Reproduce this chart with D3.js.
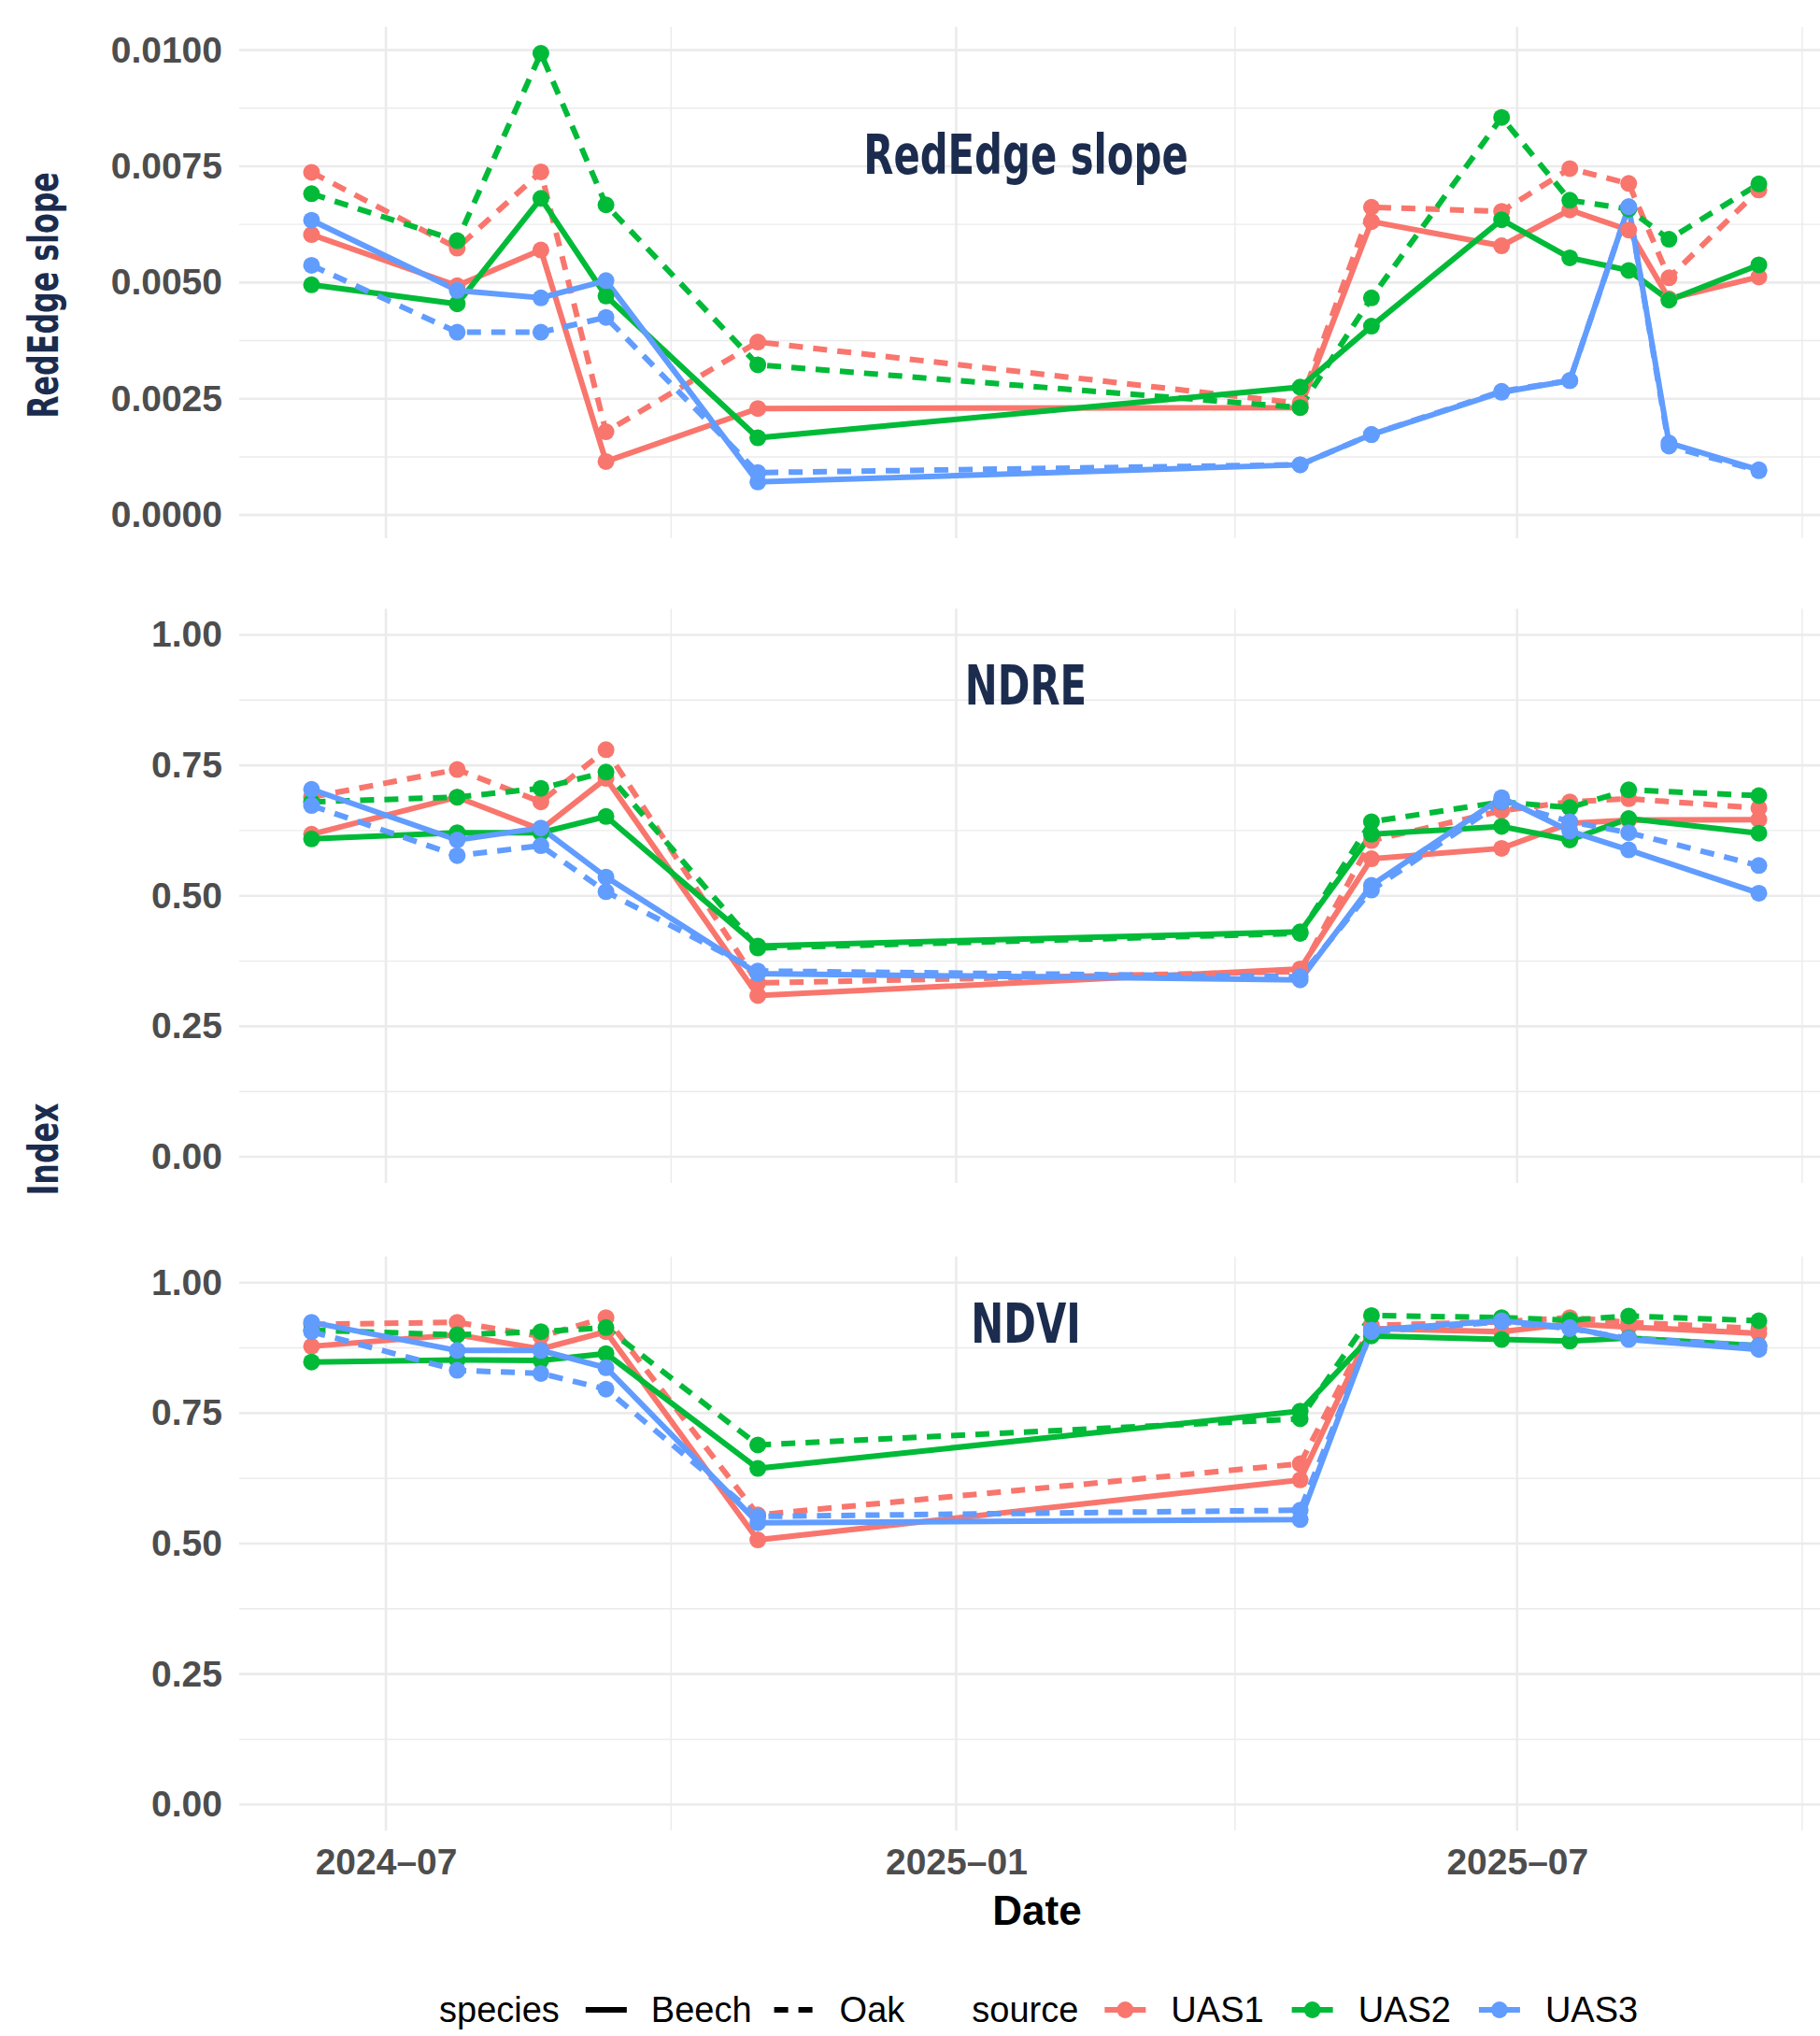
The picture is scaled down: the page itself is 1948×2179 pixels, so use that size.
<!DOCTYPE html>
<html>
<head>
<meta charset="utf-8">
<script src="https://cdn.jsdelivr.net/npm/d3@7"></script>
<style>
  body { margin: 0; background: #fff; }
  text { font-family: "Liberation Sans", Arial, sans-serif; }
  .narrow { font-family: "Liberation Sans Narrow", "DejaVu Sans Condensed", "Liberation Sans", sans-serif; font-stretch: condensed; }
</style>
</head>
<body>
<div id="chart"></div>
<script>
// survey dates
const dates = ["2024-06-07", "2024-07-24", "2024-08-20", "2024-09-10", "2024-10-29", "2025-04-22",
               "2025-05-15", "2025-06-26", "2025-07-18", "2025-08-06", "2025-08-19", "2025-09-17"];

// RedEdge slope
const slopeUAS1Beech = [0.00603, 0.00493, 0.00570, 0.00115, 0.00229, 0.00231, 0.00631, 0.00579, 0.00656, 0.00613, 0.00465, 0.00512];
const slopeUAS1Oak   = [0.00737, 0.00574, 0.00738, 0.00179, 0.00372, 0.00240, 0.00662, 0.00653, 0.00745, 0.00713, 0.00510, 0.00699];
const slopeUAS2Beech = [0.00495, 0.00454, 0.00681, 0.00471, 0.00166, 0.00275, 0.00406, 0.00635, 0.00553, 0.00526, 0.00462, 0.00538];
const slopeUAS2Oak   = [0.00691, 0.00590, 0.00993, 0.00667, 0.00323, 0.00231, 0.00467, 0.00855, 0.00677, 0.00658, 0.00593, 0.00712];
const slopeUAS3Beech = [0.00634, 0.00483, 0.00467, 0.00504, 0.00071, 0.00108, 0.00173, 0.00264, 0.00289, 0.00663, 0.00155, 0.00097];
const slopeUAS3Oak   = [0.00537, 0.00393, 0.00393, 0.00425, 0.00091, 0.00108, 0.00173, 0.00266, 0.00289, 0.00663, 0.00148, 0.00095];

// NDRE (no flight on 2025-08-19)
const ndreUAS1Beech = [0.618, 0.689, 0.627, 0.725, 0.309, 0.360, 0.571, 0.591, 0.639, 0.645, null, 0.646];
const ndreUAS1Oak   = [0.689, 0.742, 0.680, 0.780, 0.333, 0.355, 0.606, 0.663, 0.680, 0.686, null, 0.668];
const ndreUAS2Beech = [0.609, 0.621, 0.621, 0.652, 0.404, 0.431, 0.618, 0.633, 0.607, 0.648, null, 0.620];
const ndreUAS2Oak   = [0.680, 0.689, 0.706, 0.737, 0.400, 0.428, 0.642, 0.680, 0.669, 0.703, null, 0.692];
const ndreUAS3Beech = [0.704, 0.607, 0.630, 0.536, 0.351, 0.339, 0.520, 0.688, 0.624, 0.588, null, 0.505];
const ndreUAS3Oak   = [0.673, 0.577, 0.596, 0.508, 0.356, 0.345, 0.511, 0.680, 0.642, 0.621, null, 0.558];

// NDVI
const ndviUAS1Beech = [0.878, 0.900, 0.873, 0.906, 0.507, 0.622, 0.912, 0.906, 0.921, 0.915, null, 0.903];
const ndviUAS1Oak   = [0.920, 0.924, 0.897, 0.933, 0.555, 0.653, 0.918, 0.925, 0.933, 0.924, null, 0.912];
const ndviUAS2Beech = [0.848, 0.852, 0.851, 0.864, 0.644, 0.754, 0.898, 0.891, 0.888, 0.894, null, 0.879];
const ndviUAS2Oak   = [0.909, 0.900, 0.906, 0.914, 0.689, 0.739, 0.937, 0.933, 0.928, 0.936, null, 0.927];
const ndviUAS3Beech = [0.924, 0.870, 0.870, 0.837, 0.540, 0.546, 0.909, 0.927, 0.914, 0.891, null, 0.872];
const ndviUAS3Oak   = [0.906, 0.832, 0.826, 0.796, 0.552, 0.564, 0.906, 0.925, 0.912, 0.893, null, 0.879];

const sources = ["UAS1", "UAS2", "UAS3"];
const species = ["Beech", "Oak"];
const sourceColors = ["#F8766D", "#00BA38", "#619CFF"];

const slopeTicks = [0, 0.0025, 0.005, 0.0075, 0.01];
const indexTicks = [0, 0.25, 0.5, 0.75, 1];
const xMajorTicks = ["2024-07-01", "2025-01-01", "2025-07-01"];
const xMinorTicks = ["2024-10-01", "2025-04-01", "2025-10-01"];

const W = 1948, H = 2179;
const navy = "#1b2c4e";
const gridColor = "#ebebeb";
const lineW = 6, pointR = 9, dash = "15,11";
const narrowX = 0.8; // no condensed font installed, squeeze horizontally

const parse = d3.timeParse("%Y-%m-%d");
const dateVals = dates.map(parse);

const panels = [
  { title: "RedEdge slope", domain: [-0.0005, 0.0105], range: [576, 28.7], ticks: slopeTicks, fmt: d3.format(".4f"), titleY: 186,
    series: [[slopeUAS1Beech, slopeUAS1Oak], [slopeUAS2Beech, slopeUAS2Oak], [slopeUAS3Beech, slopeUAS3Oak]] },
  { title: "NDRE", domain: [-0.05, 1.05], range: [1266, 651.5], ticks: indexTicks, fmt: d3.format(".2f"), titleY: 754,
    series: [[ndreUAS1Beech, ndreUAS1Oak], [ndreUAS2Beech, ndreUAS2Oak], [ndreUAS3Beech, ndreUAS3Oak]] },
  { title: "NDVI", domain: [-0.05, 1.05], range: [1959.2, 1344.8], ticks: indexTicks, fmt: d3.format(".2f"), titleY: 1437,
    series: [[ndviUAS1Beech, ndviUAS1Oak], [ndviUAS2Beech, ndviUAS2Oak], [ndviUAS3Beech, ndviUAS3Oak]] }
];

const svg = d3.select("#chart").append("svg")
  .attr("width", W)
  .attr("height", H);

svg.append("rect").attr("width", W).attr("height", H).attr("fill", "#fff");

// x scale with ggplot's 5% expansion
const span = dateVals[dateVals.length - 1] - dateVals[0];
const x = d3.scaleTime()
  .domain([new Date(+dateVals[0] - span * 0.05), new Date(+dateVals[dateVals.length - 1] + span * 0.05)])
  .range([256, 1960]);

panels.forEach(p => {
  const y = d3.scaleLinear().domain(p.domain).range(p.range);
  const g = svg.append("g");
  const [yBottom, yTop] = p.range;

  // minor grid
  const minorY = d3.pairs(p.ticks).map(([a, b]) => (a + b) / 2);
  g.append("g").selectAll("line").data(minorY).join("line")
    .attr("x1", x.range()[0]).attr("x2", x.range()[1])
    .attr("y1", d => y(d)).attr("y2", d => y(d))
    .attr("stroke", gridColor).attr("stroke-width", 1.4);
  g.append("g").selectAll("line").data(xMinorTicks.map(parse)).join("line")
    .attr("x1", d => x(d)).attr("x2", d => x(d))
    .attr("y1", yTop).attr("y2", yBottom)
    .attr("stroke", gridColor).attr("stroke-width", 1.4);

  // major grid
  g.append("g").selectAll("line").data(p.ticks).join("line")
    .attr("x1", x.range()[0]).attr("x2", x.range()[1])
    .attr("y1", d => y(d)).attr("y2", d => y(d))
    .attr("stroke", gridColor).attr("stroke-width", 2.6);
  g.append("g").selectAll("line").data(xMajorTicks.map(parse)).join("line")
    .attr("x1", d => x(d)).attr("x2", d => x(d))
    .attr("y1", yTop).attr("y2", yBottom)
    .attr("stroke", gridColor).attr("stroke-width", 2.6);

  // y tick labels
  const yAxis = d3.axisLeft(y).tickValues(p.ticks).tickFormat(p.fmt).tickSize(0).tickPadding(18);
  g.append("g")
    .attr("transform", `translate(${x.range()[0]},0)`)
    .call(yAxis)
    .call(a => a.select(".domain").remove())
    .selectAll("text")
      .attr("font-family", "'Liberation Sans', Arial, sans-serif")
      .attr("font-size", 39)
      .attr("font-weight", "bold")
      .attr("fill", "#4d4d4d");

  // panel title
  g.append("text")
    .attr("class", "narrow")
    .attr("transform", `translate(1098,${p.titleY}) scale(${narrowX},1)`)
    .attr("text-anchor", "middle")
    .attr("font-size", 58)
    .attr("font-weight", "bold")
    .attr("fill", navy)
    .text(p.title);

  // lines
  const lineGen = d3.line().x(d => x(d.date)).y(d => y(d.value));
  const groups = [];
  p.series.forEach((pair, si) => pair.forEach((vals, ki) => {
    groups.push({
      color: sourceColors[si],
      oak: ki === 1,
      pts: dateVals.map((dt, i) => ({ date: dt, value: vals[i] })).filter(d => d.value != null)
    });
  }));

  g.append("g").selectAll("path").data(groups).join("path")
    .attr("d", d => lineGen(d.pts))
    .attr("fill", "none")
    .attr("stroke", d => d.color)
    .attr("stroke-width", lineW)
    .attr("stroke-dasharray", d => d.oak ? dash : null);

  groups.forEach(gr => {
    g.append("g").selectAll("circle").data(gr.pts).join("circle")
      .attr("cx", d => x(d.date))
      .attr("cy", d => y(d.value))
      .attr("r", pointR)
      .attr("fill", gr.color);
  });
});

// bottom axis labels
const xAxis = d3.axisBottom(x).tickValues(xMajorTicks.map(parse))
  .tickFormat(d3.timeFormat("%Y–%m")).tickSize(0);
svg.append("g")
  .attr("transform", "translate(0,1959)")
  .call(xAxis)
  .call(a => a.select(".domain").remove())
  .selectAll("text")
    .attr("y", 47).attr("dy", null)
    .attr("font-family", "'Liberation Sans', Arial, sans-serif")
    .attr("font-size", 39)
    .attr("font-weight", "bold")
    .attr("fill", "#4d4d4d");

// axis titles
svg.append("text")
  .attr("x", 1110).attr("y", 2060)
  .attr("text-anchor", "middle")
  .attr("font-size", 44)
  .attr("font-weight", "bold")
  .attr("fill", "#000")
  .text("Date");

[["RedEdge slope", 316], ["Index", 1230]].forEach(([label, cy]) => {
  svg.append("text")
    .attr("class", "narrow")
    .attr("transform", `translate(62,${cy}) rotate(-90) scale(${narrowX},1)`)
    .attr("text-anchor", "middle")
    .attr("font-size", 44)
    .attr("font-weight", "bold")
    .attr("fill", navy)
    .text(label);
});

// legend
const legY = 2151;
const leg = svg.append("g").attr("font-size", 38).attr("fill", "#000");
let cx = 470;
function legText(t) {
  const el = leg.append("text").attr("x", cx).attr("y", legY).attr("dy", "0.35em").text(t);
  cx += el.node().getComputedTextLength();
}
const keyW = 44;

legText("species");
cx += 28;
species.forEach((s, i) => {
  leg.append("line")
    .attr("x1", cx).attr("x2", cx + keyW).attr("y1", legY).attr("y2", legY)
    .attr("stroke", "#000").attr("stroke-width", lineW)
    .attr("stroke-dasharray", i === 1 ? "15,11" : null);
  cx += keyW + 26;
  legText(s);
  cx += 24;
});
cx += 48;
legText("source");
cx += 28;
sources.forEach((s, i) => {
  leg.append("line")
    .attr("x1", cx).attr("x2", cx + keyW).attr("y1", legY).attr("y2", legY)
    .attr("stroke", sourceColors[i]).attr("stroke-width", lineW);
  leg.append("circle")
    .attr("cx", cx + keyW / 2).attr("cy", legY).attr("r", pointR)
    .attr("fill", sourceColors[i]);
  cx += keyW + 27;
  legText(s);
  cx += 30;
});
</script>
</body>
</html>
